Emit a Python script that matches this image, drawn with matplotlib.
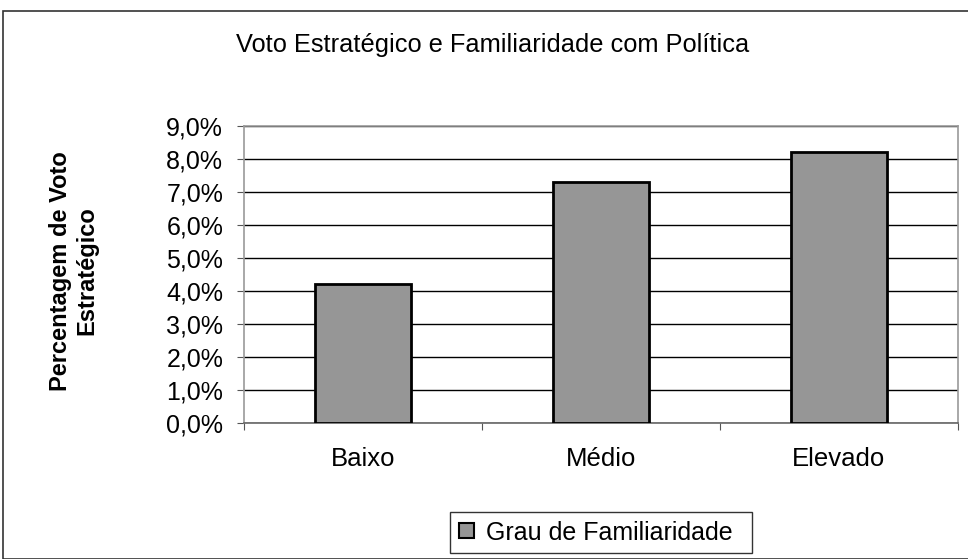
import matplotlib
matplotlib.use('Agg')
import matplotlib.pyplot as plt
from matplotlib.patches import Rectangle
from matplotlib.ticker import FuncFormatter, FixedLocator

# Dados do gráfico
categorias = ['Baixo', 'Médio', 'Elevado']
valores = [4.2, 7.3, 8.2]
serie = 'Grau de Familiaridade'
titulo = 'Voto Estratégico e Familiaridade com Política'
rotulo_y = 'Percentagem de Voto\nEstratégico'

plt.rcParams['font.family'] = ['Liberation Sans', 'DejaVu Sans']

fig = plt.figure(figsize=(9.68, 5.59), dpi=100)
ax = fig.add_axes([244 / 968, 1 - 423 / 559, 714 / 968, 297 / 559])

# Moldura externa da figura
fig.patches.append(Rectangle((3 / 968, 0), 1.0, 1 - 11 / 559, transform=fig.transFigure,
                             fill=False, edgecolor='#333333', linewidth=1.2))

x = list(range(len(categorias)))
barras = ax.bar(x, valores, width=0.4, color='#969696', edgecolor='black',
                linewidth=2, label=serie, zorder=3)

ax.set_xlim(-0.5, len(categorias) - 0.5)
ax.set_ylim(0, 9)
ax.set_yticks([i for i in range(10)])
ax.yaxis.set_major_formatter(FuncFormatter(lambda v, p: f'{v:.1f}%'.replace('.', ',')))
ax.yaxis.grid(True, color='black', linewidth=1, zorder=0)
ax.set_axisbelow(True)

# Marcas do eixo x nos limites das categorias
ax.xaxis.set_major_locator(FixedLocator([-0.5, 0.5, 1.5, 2.5]))
ax.xaxis.set_major_formatter(FuncFormatter(lambda v, p: ''))
ax.xaxis.set_minor_locator(FixedLocator(x))
ax.set_xticklabels(categorias, minor=True)
ax.tick_params(axis='x', which='minor', length=0, pad=17, labelsize=18.5)
ax.tick_params(axis='x', which='major', length=5, direction='out', color='#555555')
ax.tick_params(axis='y', length=5, direction='out', labelsize=18, color='#555555', pad=10)

for lado in ['left', 'top', 'right']:
    ax.spines[lado].set_color('#999999')
    ax.spines[lado].set_linewidth(1.2)
ax.spines['bottom'].set_color('#666666')
ax.spines['bottom'].set_linewidth(1.2)

fig.text(493 / 968, 1 - 45 / 559, titulo, ha='center', va='center', fontsize=18.3)
fig.text(74 / 968, 1 - 271 / 559, rotulo_y, ha='center', va='center', fontsize=17,
         fontweight='bold', rotation=90, linespacing=1.2)

leg = fig.legend(handles=[barras], labels=[serie], loc='center', mode='expand',
                 bbox_to_anchor=(450 / 968, 1 - 556 / 559, 302 / 968, 47 / 559),
                 fontsize=18, frameon=True, fancybox=False, edgecolor='black',
                 handlelength=0.6, handleheight=0.55, handletextpad=0.5,
                 borderpad=0.35, borderaxespad=0)
leg.get_frame().set_linewidth(1.0)
for h in leg.legend_handles:
    h.set_linewidth(1.5)

fig.savefig('out.png', dpi=100)
